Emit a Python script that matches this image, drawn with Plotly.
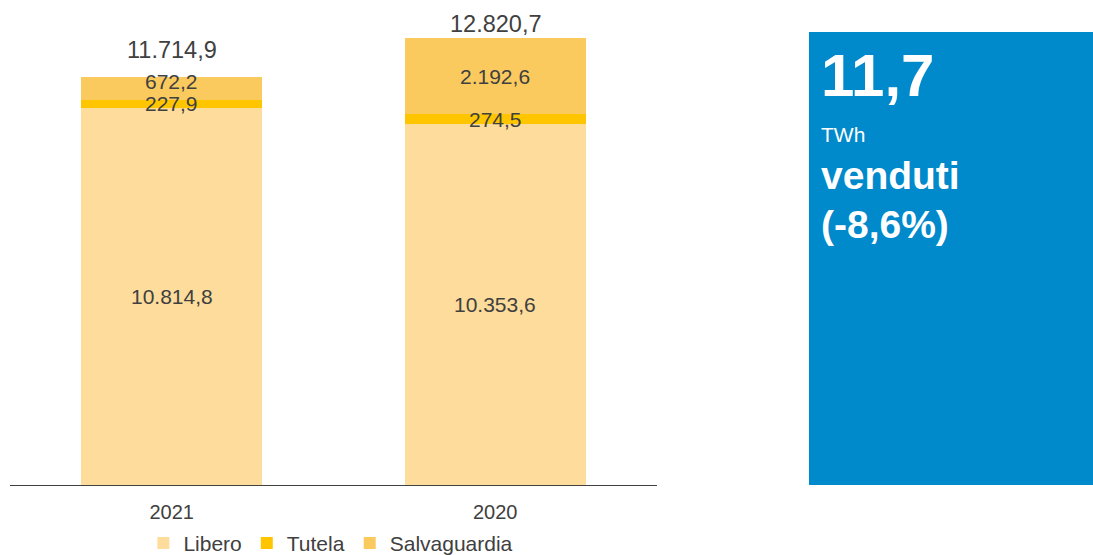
import plotly.graph_objects as go

# data
years = ['2021', '2020']
libero = [10814.8, 10353.6]
tutela = [227.9, 274.5]
salvaguardia = [672.2, 2192.6]
totals = [11714.9, 12820.7]

kpi_value = '11,7'
kpi_unit = 'TWh'
kpi_label = 'venduti'
kpi_delta = '(-8,6%)'

FONT = 'Liberation Sans, Arial, sans-serif'
GREY = '#404040'


def fmt(v):
    # italian number format: 12.820,7
    s = f'{v:,.1f}'
    return s.replace(',', 'X').replace('.', ',').replace('X', '.')


series = [('Libero', libero, '#FEDC9B'),
          ('Tutela', tutela, '#FFC600'),
          ('Salvaguardia', salvaguardia, '#FBCA5F')]

fig = go.Figure()
for name, vals, col in series:
    fig.add_trace(go.Bar(x=years, y=vals, name=name, marker_color=col,
                         marker_line_width=0, hoverinfo='skip'))

annotations = []
# segment labels, centred in each segment (x given as category index,
# otherwise plotly reads '2021' as a position number)
base = [0.0] * len(years)
for name, vals, col in series:
    for i, v in enumerate(vals):
        shift = 7 if (name == 'Salvaguardia' and v < 1000) else 0
        annotations.append(dict(x=i, y=base[i] + v / 2, text=fmt(v),
                                showarrow=False, yshift=shift,
                                font=dict(family=FONT, size=21, color=GREY)))
        base[i] += v

# totals above the bars
top_shift = [12, -1]
for i, t in enumerate(totals):
    annotations.append(dict(x=i, y=t, text=fmt(t), showarrow=False,
                            yanchor='bottom', yshift=top_shift[i],
                            font=dict(family=FONT, size=23.5, color=GREY)))

# KPI box text
kx = 1.2504
annotations += [
    dict(xref='paper', yref='paper', x=kx, y=0.845, xanchor='left', yanchor='middle',
         text=f'<b>{kpi_value}</b>', showarrow=False,
         font=dict(family=FONT, size=60, color='white')),
    dict(xref='paper', yref='paper', x=kx, y=0.722, xanchor='left', yanchor='middle',
         text=kpi_unit, showarrow=False,
         font=dict(family=FONT, size=21, color='white')),
    dict(xref='paper', yref='paper', x=kx, y=0.639, xanchor='left', yanchor='middle',
         text=f'<b>{kpi_label}</b>', showarrow=False,
         font=dict(family=FONT, size=39, color='white')),
    dict(xref='paper', yref='paper', x=kx, y=0.538, xanchor='left', yanchor='middle',
         text=f'<b>{kpi_delta}</b>', showarrow=False,
         font=dict(family=FONT, size=39, color='white')),
]

fig.update_layout(
    width=1093, height=555,
    margin=dict(l=10, r=436, t=0, b=70, autoexpand=False),
    barmode='stack', bargap=0.44,
    plot_bgcolor='white', paper_bgcolor='white',
    font=dict(family=FONT, size=20, color=GREY),
    xaxis=dict(type='category', range=[-0.5, 1.5], autorange=False,
               showline=True, linecolor=GREY, linewidth=1, ticks='',
               ticklabelstandoff=9, showgrid=False,
               tickfont=dict(family=FONT, size=20, color=GREY)),
    yaxis=dict(range=[0, 13910], autorange=False, visible=False, showgrid=False),
    legend=dict(orientation='h', x=0.496, xanchor='center', y=-0.078, yanchor='top',
                font=dict(family=FONT, size=21, color=GREY),
                itemwidth=30, traceorder='normal'),
    shapes=[dict(type='rect', xref='paper', yref='paper',
                 x0=1.2349, x1=1.72, y0=0, y1=0.934,
                 fillcolor='#0089CB', line_width=0, layer='below')],
    annotations=annotations,
)

# drop the default page margin so the figure sits at the window's top-left
fig.write_html('out.html', config={'displayModeBar': False},
               post_script="document.body.style.margin = '0px';")
